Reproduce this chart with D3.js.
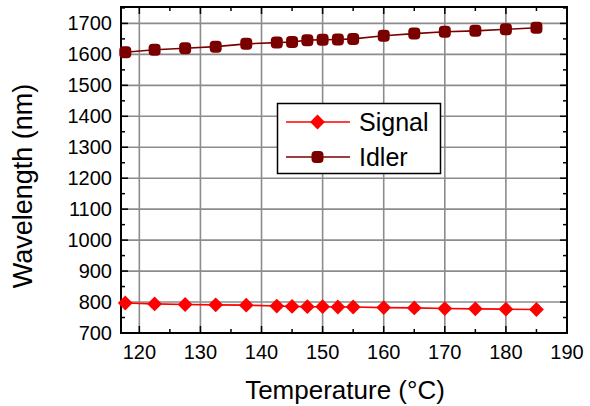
<!DOCTYPE html>
<html><head><meta charset="utf-8">
<script src="https://cdn.jsdelivr.net/npm/d3@7"></script>
<style>body{margin:0;background:#fff}svg{display:block}</style>
</head><body><svg id="c" width="590" height="406"></svg>
<script>
const temps = [117.7,122.5,127.5,132.5,137.5,142.5,145,147.5,150,152.5,155,160,165,170,175,180,185];
const signal = [797,794,792,791,790,787,786,785,785,784,784,782,781,779,778,777,776];
const idler = [1607,1615,1620,1625,1634,1638,1640,1646,1647,1648,1650,1660,1667,1673,1676,1681,1686];
const xTicks = [120,130,140,150,160,170,180,190];
const yTicks = [700,800,900,1000,1100,1200,1300,1400,1500,1600,1700];
const seriesNames = ["Signal","Idler"];

const svg = d3.select("#c");
const L=121, R=567, T=7, B=333;
const x = d3.scaleLinear().domain([117,190]).range([L,R]);
const y = d3.scaleLinear().domain([700,1753]).range([B,T]);
const font = "Arial, 'Liberation Sans', sans-serif";

// grid
const g = svg.append("g");
g.selectAll(".gx").data(xTicks.filter(t=>t<190)).enter().append("line")
 .attr("x1",d=>x(d)).attr("x2",d=>x(d)).attr("y1",T).attr("y2",B)
 .attr("stroke","#8c8c8c").attr("stroke-width",1.6);
g.selectAll(".gy").data(yTicks.filter(t=>t>700)).enter().append("line")
 .attr("y1",d=>y(d)).attr("y2",d=>y(d)).attr("x1",L).attr("x2",R)
 .attr("stroke","#8c8c8c").attr("stroke-width",1.6);

// minor/major ticks inside on all sides
const xMinor = d3.range(125,190,10);
const yMinor = d3.range(750,1753,100);
const tk = svg.append("g").attr("stroke","#000").attr("stroke-width",1.5);
xTicks.forEach(t=>{ tk.append("line").attr("x1",x(t)).attr("x2",x(t)).attr("y1",B).attr("y2",B-7);
  tk.append("line").attr("x1",x(t)).attr("x2",x(t)).attr("y1",T).attr("y2",T+7);});
xMinor.forEach(t=>{ tk.append("line").attr("x1",x(t)).attr("x2",x(t)).attr("y1",B).attr("y2",B-4);
  tk.append("line").attr("x1",x(t)).attr("x2",x(t)).attr("y1",T).attr("y2",T+4);});
yTicks.forEach(t=>{ tk.append("line").attr("y1",y(t)).attr("y2",y(t)).attr("x1",L).attr("x2",L+7);
  tk.append("line").attr("y1",y(t)).attr("y2",y(t)).attr("x1",R).attr("x2",R-7);});
yMinor.forEach(t=>{ tk.append("line").attr("y1",y(t)).attr("y2",y(t)).attr("x1",L).attr("x2",L+4);
  tk.append("line").attr("y1",y(t)).attr("y2",y(t)).attr("x1",R).attr("x2",R-4);});

// frame
svg.append("rect").attr("x",L).attr("y",T).attr("width",R-L).attr("height",B-T)
 .attr("fill","none").attr("stroke","#000").attr("stroke-width",2);

// tick labels
svg.append("g").selectAll("text").data(xTicks).enter().append("text")
 .attr("x",d=>x(d)).attr("y",359).attr("text-anchor","middle")
 .attr("font-family",font).attr("font-size",20).text(d=>d);
svg.append("g").selectAll("text").data(yTicks).enter().append("text")
 .attr("x",112).attr("y",d=>y(d)+7).attr("text-anchor","end")
 .attr("font-family",font).attr("font-size",20).text(d=>d);

// titles
svg.append("text").attr("x",(L+R)/2+1).attr("y",399).attr("text-anchor","middle")
 .attr("font-family",font).attr("font-size",26).text("Temperature (°C)");
svg.append("text").attr("transform",`translate(32,${(T+B)/2+16}) rotate(-90)`).attr("text-anchor","middle")
 .attr("font-family",font).attr("font-size",27).text("Wavelength (nm)");

// series
const line = d3.line().x((d,i)=>x(temps[i])).y(d=>y(d));
const sCol="#ff0000", iCol="#7a0000";
const sq = d3.symbol().type(d3.symbolSquare).size(110);
svg.append("path").datum(signal).attr("d",line).attr("fill","none").attr("stroke",sCol).attr("stroke-width",1.6);
svg.append("g").selectAll("path").data(signal).enter().append("path")
 .attr("d",sq)
 .attr("transform",(d,i)=>`translate(${x(temps[i])},${y(d)}) rotate(45)`).attr("fill",sCol);
svg.append("path").datum(idler).attr("d",line).attr("fill","none").attr("stroke",iCol).attr("stroke-width",1.6);
svg.append("g").selectAll("rect").data(idler).enter().append("rect")
 .attr("x",(d,i)=>x(temps[i])-6).attr("y",d=>y(d)-6).attr("width",12).attr("height",12)
 .attr("rx",4).attr("fill",iCol);

// legend
const lg = svg.append("g");
lg.append("rect").attr("x",277.5).attr("y",103.5).attr("width",163).attr("height",70)
 .attr("fill","#fff").attr("stroke","#000").attr("stroke-width",1.5);
[[sCol,122],[iCol,157]].forEach(([c,yy],k)=>{
  lg.append("line").attr("x1",286).attr("x2",350).attr("y1",yy).attr("y2",yy).attr("stroke",c).attr("stroke-width",1.6);
  if(k===0) lg.append("path").attr("d",sq()).attr("transform",`translate(317.5,${yy}) rotate(45)`).attr("fill",c);
  else lg.append("rect").attr("x",311.5).attr("y",yy-6).attr("width",12).attr("height",12).attr("rx",4).attr("fill",c);
  lg.append("text").attr("x",359).attr("y",yy+8.5).attr("font-family",font).attr("font-size",25).text(seriesNames[k]);
});
</script></body></html>
